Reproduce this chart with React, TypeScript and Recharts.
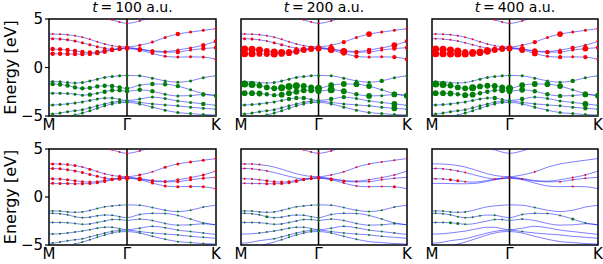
import React from "react";
import { ComposedChart, Line, XAxis, YAxis, ReferenceLine, ReferenceArea } from "recharts";

// k-path positions (M -> Gamma -> K), Gamma at 1
const kPath = [0, 0.047, 0.142, 0.238, 0.333, 0.428, 0.524, 0.619, 0.714, 0.809, 0.905, 1.0, 1.163, 1.326, 1.489, 1.652, 1.815, 1.978, 2.141];
const K_MAX = 2.141;
const kTickValues = [0, 1, 2.141];
const kTickLabels = ["M", "Γ", "K"];
const energyTicks = [-5, 0, 5];
const timeLabels = ["100", "200", "400"];

// band energies [eV]
const C0 = [7.2, 7.15, 7.0, 6.8, 6.5, 6.2, 5.9, 5.55, 5.2, 4.92, 4.68, 4.55, 4.8, 5.25, 5.8, 6.3, 6.6, 6.8, 6.9];
const C1 = [3.45, 3.45, 3.43, 3.38, 3.28, 3.12, 2.9, 2.65, 2.42, 2.25, 2.15, 2.12, 2.3, 2.62, 3.1, 3.45, 3.65, 3.83, 4.0];
const C2 = [2.97, 2.97, 2.93, 2.85, 2.72, 2.55, 2.35, 2.15, 1.98, 1.88, 1.92, 2.05, 1.92, 1.72, 1.65, 1.8, 2.02, 2.3, 2.7];
const C3 = [1.9, 1.9, 1.87, 1.8, 1.7, 1.6, 1.55, 1.6, 1.72, 1.85, 1.95, 2.0, 1.88, 1.65, 1.58, 1.6, 1.8, 1.95, 2.05];
const C4 = [1.42, 1.42, 1.41, 1.4, 1.38, 1.38, 1.4, 1.48, 1.62, 1.8, 1.92, 1.95, 1.8, 1.45, 1.15, 1.07, 1.1, 1.07, 0.86];
const V1 = [-1.45, -1.45, -1.47, -1.55, -1.6, -1.55, -1.4, -1.2, -1.02, -0.93, -0.86, -0.82, -0.86, -1.1, -1.38, -1.52, -1.38, -1.05, -0.86];
const V2 = [-1.7, -1.7, -1.75, -1.86, -2.05, -2.15, -2.1, -1.95, -1.88, -1.9, -2.05, -2.15, -1.82, -1.7, -1.72, -1.92, -2.3, -2.7, -2.9];
const V3 = [-2.65, -2.65, -2.65, -2.68, -2.75, -2.85, -2.8, -2.65, -2.5, -2.35, -2.35, -2.45, -2.3, -2.45, -2.76, -2.93, -2.9, -2.78, -2.9];
const V4 = [-3.86, -3.86, -3.82, -3.75, -3.65, -3.55, -3.4, -3.25, -3.15, -3.15, -3.3, -3.4, -3.25, -3.05, -3.2, -3.45, -3.6, -3.75, -3.9];
const V5 = [-4.8, -4.8, -4.7, -4.55, -4.45, -4.35, -4.15, -3.95, -3.75, -3.58, -3.48, -3.45, -3.6, -3.75, -3.86, -3.95, -4.1, -4.2, -4.3];
const V6 = [-5.6, -5.5, -5.3, -5.1, -4.9, -4.7, -4.45, -4.2, -3.95, -3.75, -3.62, -3.6, -3.75, -4.1, -4.4, -4.65, -4.75, -4.85, -4.9];

const bandNames = ["C0", "C1", "C2", "C3", "C4", "V1", "V2", "V3", "V4", "V5", "V6"];
const bandValues = [C0, C1, C2, C3, C4, V1, V2, V3, V4, V5, V6];
const conductionCount = 5;

// dot size levels per band (rows in bandNames order), per panel
const dotsTop100 = [
  [0,0,0,0,0,0,0,0,0,1,1,1, 1,0,0,0,0,0,0],
  [0,1,1,1,1,1,1,1,1,1,2,2, 2,2,2,3,2,2,2],
  [0,2,2,2,2,2,2,2,2,2,2,3, 2,2,2,2,2,3,3],
  [0,3,3,3,3,3,3,3,3,3,3,3, 3,3,2,3,2,3,3],
  [0,3,3,3,3,3,3,3,3,3,3,3, 3,2,2,2,2,2,2],
  [0,2,2,2,2,2,2,2,2,2,2,2, 2,2,2,2,2,2,2],
  [0,3,3,3,3,3,3,3,3,3,3,3, 2,3,3,3,2,2,2],
  [0,2,2,2,2,2,3,2,3,3,3,3, 3,3,2,2,2,3,3],
  [0,2,2,2,2,2,2,2,2,2,2,2, 2,2,2,2,2,3,2],
  [0,2,2,2,2,2,2,2,2,2,2,2, 2,2,2,2,2,2,2],
  [0,0,0,0,2,2,2,2,2,2,2,2, 2,2,2,2,2,2,2],
];
const dotsTop200 = [
  [0,0,0,0,0,0,0,0,1,1,1,1, 1,0,0,0,0,0,0],
  [0,1,1,1,1,1,1,1,1,1,1,2, 2,3,2,4,2,2,2],
  [0,2,2,1,1,2,2,1,2,2,2,3, 3,3,2,3,2,4,3],
  [0,5,5,5,4,5,5,4,4,4,4,4, 5,5,3,3,2,3,3],
  [0,5,5,4,4,5,4,4,4,4,4,4, 4,3,3,2,2,3,3],
  [0,1,1,1,1,2,2,2,2,2,2,2, 2,2,2,2,3,2,2],
  [0,5,5,4,4,4,5,5,5,4,4,5, 4,4,4,4,2,3,4],
  [0,4,4,4,3,3,4,4,4,4,4,4, 5,4,3,4,2,4,4],
  [0,2,2,2,2,2,2,3,3,3,2,2, 3,3,2,2,2,4,2],
  [0,2,2,2,2,2,2,2,2,2,2,2, 2,2,2,2,2,4,2],
  [0,0,0,0,2,2,2,2,2,2,2,2, 2,2,2,2,2,2,2],
];
const dotsTop400 = [
  [0,0,0,0,0,0,0,0,1,1,1,1, 1,0,0,0,0,0,0],
  [0,1,1,1,1,1,1,1,1,1,2,2, 2,3,2,4,2,2,2],
  [0,1,1,1,1,1,1,1,1,1,2,3, 3,3,2,2,3,2,2],
  [0,5,5,5,5,4,5,5,5,4,4,4, 4,4,3,3,2,4,3],
  [0,5,5,5,5,5,4,4,4,4,4,4, 4,4,2,3,2,3,2],
  [0,1,1,1,1,1,1,2,2,2,2,2, 2,2,2,2,3,2,2],
  [0,5,5,4,4,4,5,4,4,4,4,5, 4,4,4,4,2,3,2],
  [0,4,4,4,3,4,4,3,3,3,4,4, 4,3,3,3,2,4,4],
  [0,2,2,2,2,2,2,2,2,3,2,2, 3,2,2,2,2,4,2],
  [0,2,2,2,2,2,2,2,2,2,2,2, 2,2,2,2,2,3,2],
  [0,0,0,0,1,2,2,2,2,2,2,2, 2,2,2,2,2,2,2],
];
const dotsBottom100 = [
  [0,0,0,0,0,0,0,0,0,1,1,1, 1,0,0,0,0,0,0],
  [0,2,2,2,2,1,2,1,1,1,2,2, 2,1,2,2,2,2,2],
  [0,2,2,2,2,2,2,2,2,2,2,2, 2,2,1,2,2,2,2],
  [0,2,2,2,2,2,2,2,2,2,2,3, 3,2,2,2,2,2,2],
  [0,2,2,2,2,2,2,2,2,2,3,3, 2,2,2,2,2,2,2],
  [0,1,1,1,1,1,1,1,1,1,1,1, 1,1,1,1,1,1,1],
  [0,1,1,1,1,1,1,1,1,1,1,1, 1,1,1,1,1,1,1],
  [0,1,1,1,1,1,1,1,1,1,1,1, 1,1,1,1,1,1,1],
  [0,1,1,1,1,1,1,1,1,1,1,1, 1,1,1,1,1,1,1],
  [0,1,1,1,1,1,1,1,1,1,1,1, 1,1,1,1,1,1,1],
  [0,0,0,0,1,1,1,1,1,1,1,1, 1,1,1,1,1,1,1],
];
const dotsBottom200 = [
  [0,0,0,0,0,0,0,0,1,1,1,1, 1,0,0,0,0,0,0],
  [0,1,1,1,0,0,0,0,0,0,1,1, 1,1,1,1,1,1,1],
  [0,1,1,1,1,0,0,0,0,1,1,1, 1,1,1,1,1,1,0],
  [0,1,1,1,2,2,2,2,2,2,2,2, 2,2,1,1,1,1,0],
  [0,1,1,1,2,2,2,2,2,2,2,2, 2,1,1,1,1,2,0],
  [0,1,1,1,1,1,1,1,1,1,1,1, 1,1,1,1,1,1,0],
  [0,1,1,1,2,1,1,1,1,1,1,1, 1,1,1,1,1,1,0],
  [0,1,1,1,1,1,1,1,1,1,1,1, 1,1,1,1,1,1,1],
  [0,0,0,1,1,1,1,1,1,1,1,1, 1,1,1,1,1,1,0],
  [0,0,0,0,0,1,1,1,1,1,1,1, 1,1,1,1,1,0,0],
  [0,0,0,0,0,0,1,1,1,1,1,1, 1,1,1,0,0,0,0],
];
const dotsBottom400 = [
  [0,0,0,0,0,0,0,0,0,0,0,0, 0,0,0,0,0,0,0],
  [0,0,0,0,0,0,0,0,0,0,0,0, 0,1,0,0,0,0,0],
  [0,1,1,1,1,1,0,0,0,0,0,0, 0,0,0,0,1,1,0],
  [0,1,1,2,2,1,0,0,0,1,1,1, 1,0,0,1,1,1,0],
  [0,0,0,0,0,0,0,0,0,0,0,0, 0,0,0,0,1,0,0],
  [0,1,1,1,1,1,0,0,0,0,0,0, 0,1,0,0,0,0,0],
  [0,1,1,1,1,1,1,1,0,1,0,0, 1,1,1,1,2,1,0],
  [0,1,1,2,2,1,0,0,0,1,1,1, 1,0,0,0,0,0,0],
  [0,0,0,0,0,0,0,0,0,0,0,1, 0,0,0,0,0,0,0],
  [0,0,0,0,0,0,0,0,0,0,0,0, 1,0,0,0,0,0,0],
  [0,0,0,0,0,0,0,0,0,0,0,0, 0,0,0,0,0,0,0],
];

const radiusForLevel = [0, 1.0, 1.5, 2.2, 2.9, 3.5];

const chartData = kPath.map((k, i) => {
  const row: Record<string, number> = { k };
  bandNames.forEach((n, b) => {
    row[n] = bandValues[b][i];
  });
  return row;
});

const FONT = "DejaVu Sans";
const ML = 40;
const MT = 22;
const MR = 12;
const XH = 26;

const fmtEnergy = (v: number) => (v < 0 ? "\u2212" + Math.abs(v) : String(v));
const fmtK = (v: number) => {
  const i = kTickValues.findIndex((t) => Math.abs(t - v) < 1e-6);
  return i >= 0 ? kTickLabels[i] : "";
};

function makeDot(levels: number[], color: string, id: string) {
  return (p: any) => {
    const lv = levels[p.index] || 0;
    const key = `${id}-${p.index}`;
    if (!lv || p.cx == null || p.cy == null || isNaN(p.cx) || isNaN(p.cy)) return <g key={key} />;
    return <circle key={key} cx={p.cx} cy={p.cy} r={radiusForLevel[lv]} fill={color} />;
  };
}

function Panel(props: { x: number; y: number; w: number; h: number; dots: number[][]; showYTicks: boolean; id: string }) {
  const { x, y, w, h, dots, showYTicks, id } = props;
  return (
    <div style={{ position: "absolute", left: x - ML, top: y - MT }}>
      <ComposedChart
        width={w + ML + MR}
        height={h + MT + XH}
        data={chartData}
        margin={{ top: MT, right: MR, left: showYTicks ? 0 : ML, bottom: 0 }}
      >
        <XAxis
          dataKey="k"
          type="number"
          domain={[0, K_MAX]}
          ticks={kTickValues}
          interval={0}
          tickFormatter={fmtK}
          tickLine={false}
          axisLine={false}
          tickSize={0}
          tickMargin={3}
          height={XH}
          allowDataOverflow
          tick={{ fill: "#000", fontSize: 15, fontFamily: FONT }}
        />
        {showYTicks ? (
          <YAxis
            type="number"
            domain={[-5, 5]}
            ticks={energyTicks}
            interval={0}
            allowDataOverflow
            width={ML}
            axisLine={false}
            tickSize={4}
            tickMargin={2}
            tickLine={{ stroke: "#000", strokeWidth: 1.2 }}
            tickFormatter={fmtEnergy}
            tick={{ fill: "#000", fontSize: 15, fontFamily: FONT }}
          />
        ) : (
          <YAxis
            type="number"
            domain={[-5, 5]}
            ticks={energyTicks}
            interval={0}
            allowDataOverflow
            width={ML}
            axisLine={false}
            mirror
            tickSize={4}
            tickLine={{ stroke: "#000", strokeWidth: 1.2 }}
            tick={false}
          />
        )}
        {bandNames.map((n) => (
          <Line
            key={`l-${n}`}
            dataKey={n}
            type="monotone"
            stroke="#0000ff"
            strokeOpacity={0.5}
            strokeWidth={1}
            dot={false}
            activeDot={false}
            isAnimationActive={false}
          />
        ))}
        <ReferenceLine x={1} stroke="#000" strokeWidth={1.5} />
        {bandNames.map((n, b) => (
          <Line
            key={`d-${n}`}
            dataKey={n}
            type="monotone"
            stroke="none"
            dot={makeDot(dots[b], b < conductionCount ? "#ff0000" : "#008000", `${id}-${n}`)}
            activeDot={false}
            isAnimationActive={false}
          />
        ))}
        <ReferenceArea x1={0} x2={K_MAX} y1={-5} y2={5} fill="none" stroke="#000" strokeWidth={1.5} ifOverflow="visible" />
      </ComposedChart>
    </div>
  );
}

const panelXs = [49, 241, 432];
const panelWs = [167, 166, 166];
const topY = 19;
const topH = 97;
const bottomY = 149;
const bottomH = 96;
const topDots = [dotsTop100, dotsTop200, dotsTop400];
const bottomDots = [dotsBottom100, dotsBottom200, dotsBottom400];

export default function App() {
  return (
    <div style={{ position: "absolute", left: 0, top: 0, width: 603, height: 264, background: "#fff", overflow: "hidden" }}>
      <svg width={603} height={264} style={{ position: "absolute", left: 0, top: 0 }}>
        {timeLabels.map((t, i) => (
          <text key={`t-${t}`} x={panelXs[i] + panelWs[i] / 2} y={12} textAnchor="middle" fontFamily={FONT} fontSize={14} fill="#000">
            <tspan fontStyle="italic">t</tspan>
            <tspan>{"\u2009=\u2009" + t + " a.u."}</tspan>
          </text>
        ))}
        <text transform={`translate(15.5, ${topY + topH / 2}) rotate(-90)`} textAnchor="middle" fontFamily={FONT} fontSize={16} fill="#000">
          Energy [eV]
        </text>
        <text transform={`translate(15.5, ${bottomY + bottomH / 2}) rotate(-90)`} textAnchor="middle" fontFamily={FONT} fontSize={16} fill="#000">
          Energy [eV]
        </text>
      </svg>
      {panelXs.map((px, i) => (
        <Panel key={`top-${i}`} id={`top${i}`} x={px} y={topY} w={panelWs[i]} h={topH} dots={topDots[i]} showYTicks={i === 0} />
      ))}
      {panelXs.map((px, i) => (
        <Panel key={`bot-${i}`} id={`bot${i}`} x={px} y={bottomY} w={panelWs[i]} h={bottomH} dots={bottomDots[i]} showYTicks={i === 0} />
      ))}
    </div>
  );
}
